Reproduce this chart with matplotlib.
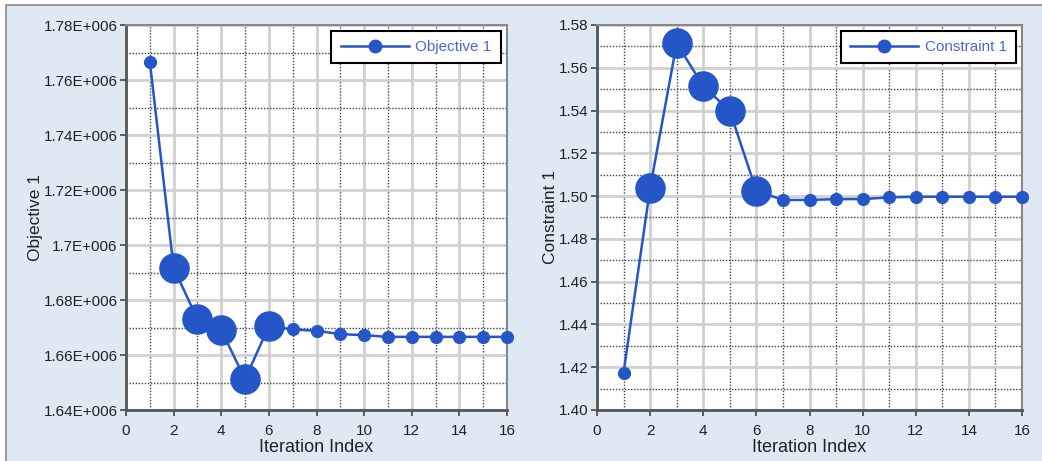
import matplotlib.pyplot as plt
from matplotlib.patches import Rectangle
from matplotlib.ticker import FuncFormatter, MultipleLocator

plt.rcParams['font.family'] = ['Liberation Sans', 'DejaVu Sans']

iterations = list(range(1, 17))
objective = [1.7667e6, 1.6917e6, 1.6730e6, 1.6691e6, 1.6512e6, 1.6705e6, 1.6693e6, 1.6688e6,
             1.6676e6, 1.6672e6, 1.6666e6, 1.6666e6, 1.6666e6, 1.6666e6, 1.6666e6, 1.6666e6]
constraint = [1.4175, 1.5038, 1.5714, 1.5515, 1.5398, 1.5025, 1.4982, 1.4982,
              1.4986, 1.4986, 1.4994, 1.4997, 1.4997, 1.4997, 1.4997, 1.4997]
big = [2, 3, 4, 5, 6]  # iterations drawn with large markers

blue = '#2556c8'
fig = plt.figure(figsize=(10.42, 4.61), dpi=100)
fig.patch.set_facecolor('white')
fig.patches.append(Rectangle((6 / 1042, -0.01), 1.01, 1 - 5 / 461 + 0.01, transform=fig.transFigure,
                             facecolor='#dfe9f4', edgecolor='#8a8a8a', lw=1.2, zorder=-5))


def draw(ax, y, label, ylim, ystep, fmt):
    ax.set_facecolor('white')
    ax.plot(iterations, y, '-', color=blue, lw=1.8, zorder=3)
    sizes = [21 if i in big else 8.5 for i in iterations]
    for xi, yi, s in zip(iterations, y, sizes):
        ax.plot(xi, yi, 'o', color=blue, ms=s, mec=blue, zorder=4, clip_on=False)
    ax.plot([], [], '-o', color=blue, lw=1.8, ms=9, label=label)
    ax.set_xlim(0, 16)
    ax.set_ylim(*ylim)
    ax.xaxis.set_major_locator(MultipleLocator(2))
    ax.xaxis.set_minor_locator(MultipleLocator(1))
    ax.yaxis.set_major_locator(MultipleLocator(ystep))
    ax.yaxis.set_minor_locator(MultipleLocator(ystep / 2))
    ax.yaxis.set_major_formatter(FuncFormatter(fmt))
    ax.grid(which='major', color='#d0d0d0', lw=2, ls='-', zorder=1)
    ax.grid(which='minor', color='#444444', lw=1, ls=(0, (1, 1.2)), zorder=1)
    ax.tick_params(which='minor', length=0)
    ax.tick_params(which='major', length=4, width=1.2, color='#444444', labelsize=11, pad=6,
                   labelcolor='#222222')
    ax.tick_params(axis='y', pad=2)
    for side in ['left', 'bottom']:
        ax.spines[side].set_color('#555555')
        ax.spines[side].set_linewidth(2)
    for side in ['right', 'top']:
        ax.spines[side].set_color('#888888')
        ax.spines[side].set_linewidth(1.5)
    ax.set_xlabel('Iteration Index', fontsize=13, labelpad=1, color='#222222')
    ax.set_ylabel(label, fontsize=12.5, labelpad=0.5, color='#222222')
    leg = ax.legend(loc='upper right', fancybox=False, framealpha=1, edgecolor='black',
                    fontsize=11, handlelength=4.5, handletextpad=0.4, borderpad=0.6,
                    borderaxespad=0.4, labelcolor='#4a66dd')
    leg.get_frame().set_linewidth(1.5)


ax1 = fig.add_axes([126 / 1042, 1 - 410 / 461, 381 / 1042, 385 / 461])
draw(ax1, objective, 'Objective 1', (1.64e6, 1.78e6), 0.02e6, lambda v, p: f'{v / 1e6:g}E+006')

ax2 = fig.add_axes([597 / 1042, 1 - 410 / 461, 425 / 1042, 385 / 461])
draw(ax2, constraint, 'Constraint 1', (1.40, 1.58), 0.02, lambda v, p: f'{v:.2f}')

fig.savefig('out.png', dpi=100)
